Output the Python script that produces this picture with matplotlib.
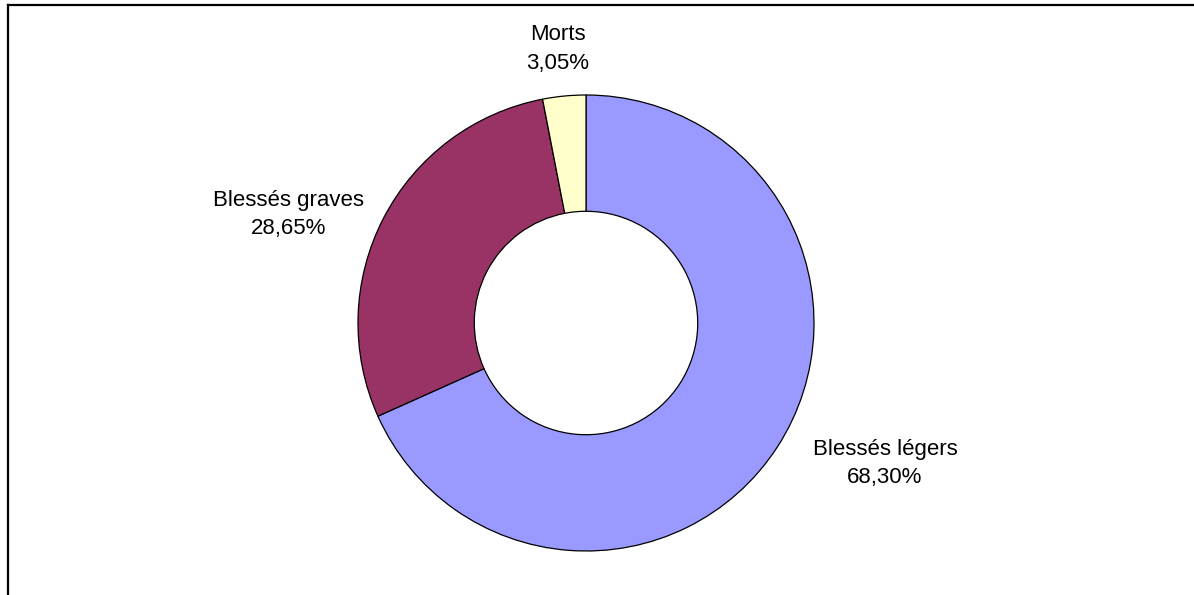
import matplotlib
matplotlib.use('Agg')
import matplotlib.pyplot as plt
from matplotlib.lines import Line2D

categories = ['Blessés légers', 'Blessés graves', 'Morts']
shares = [68.30, 28.65, 3.05]
colors = ['#9999FF', '#993366', '#FFFFCC']

plt.rcParams['font.family'] = ['Liberation Sans', 'DejaVu Sans']

W, H = 1194, 595
fig = plt.figure(figsize=(W / 100, H / 100), dpi=100)
fig.patch.set_facecolor('white')

# donut centred at (586, 323) px, outer radius 228 px
cx, cy, r = 586, 323, 228
ax = fig.add_axes([(cx - r) / W, (H - cy - r) / H, 2 * r / W, 2 * r / H])
ax.pie(shares, colors=colors, startangle=90, counterclock=False, radius=1,
       wedgeprops=dict(width=0.51, edgecolor='black', linewidth=0.9))
ax.set_xlim(-1, 1)
ax.set_ylim(-1, 1)
ax.axis('off')

# label anchor offsets (in radius units) relative to the centre
label_pos = [(1.311, -0.616), (-1.303, 0.476), (-0.125, 1.202)]
for name, val, (x, y) in zip(categories, shares, label_pos):
    txt = f"{name}\n{val:.2f}%".replace('.', ',')
    ax.text(x, y, txt, ha='center', va='center', fontsize=16,
            linespacing=1.45, clip_on=False)

# frame lines (left and top)
fig.add_artist(Line2D([8 / W, 1], [1 - 5 / H, 1 - 5 / H], color='black', lw=1.6,
                      transform=fig.transFigure))
fig.add_artist(Line2D([8 / W, 8 / W], [0, 1 - 5 / H], color='black', lw=1.6,
                      transform=fig.transFigure))

fig.savefig('out.png', dpi=100)
